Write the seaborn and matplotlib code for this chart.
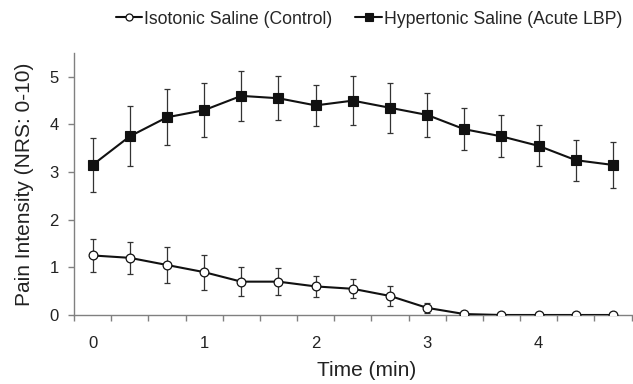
import matplotlib
matplotlib.use("Agg")
import matplotlib.pyplot as plt
import seaborn as sns
import pandas as pd
from matplotlib.ticker import FixedLocator

# ---- data ----
time_min = [0, 1/3, 2/3, 1, 4/3, 5/3, 2, 7/3, 8/3, 3, 10/3, 11/3, 4, 13/3, 14/3]
iso_mean = [1.25, 1.20, 1.05, 0.90, 0.70, 0.70, 0.60, 0.55, 0.40, 0.15, 0.02, 0.0, 0.0, 0.0, 0.0]
iso_sd = [0.34, 0.34, 0.37, 0.37, 0.31, 0.28, 0.22, 0.20, 0.21, 0.10, 0.0, 0.0, 0.0, 0.0, 0.0]
hyper_mean = [3.15, 3.75, 4.15, 4.30, 4.60, 4.55, 4.40, 4.50, 4.35, 4.20, 3.90, 3.75, 3.55, 3.25, 3.15]
hyper_sd = [0.57, 0.63, 0.59, 0.56, 0.53, 0.46, 0.43, 0.51, 0.52, 0.46, 0.44, 0.44, 0.43, 0.43, 0.48]
labels = ["Isotonic Saline (Control)", "Hypertonic Saline (Acute LBP)"]
x_ticks = [0, 1, 2, 3, 4]
y_ticks = [0, 1, 2, 3, 4, 5]
x_title = "Time (min)"
y_title = "Pain Intensity (NRS: 0-10)"

iso_df = pd.DataFrame({"time": time_min, "mean": iso_mean, "sd": iso_sd})
hyp_df = pd.DataFrame({"time": time_min, "mean": hyper_mean, "sd": hyper_sd})

sns.set_style("ticks")
plt.rcParams["font.family"] = ["Liberation Sans", "DejaVu Sans"]

fig = plt.figure(figsize=(6.33, 3.84), dpi=100)
ax = fig.add_axes([74 / 633, 69 / 384, 557.6 / 633, 262 / 384])

err_kw = dict(fmt="none", ecolor="#333333", elinewidth=0.9, capsize=2.2, capthick=0.9, zorder=2)
ax.errorbar(hyp_df["time"], hyp_df["mean"], yerr=hyp_df["sd"], **err_kw)
ax.errorbar(iso_df["time"], iso_df["mean"], yerr=iso_df["sd"], **err_kw)

sns.lineplot(data=iso_df, x="time", y="mean", ax=ax, color="#111111", linewidth=1.5,
             marker="o", markersize=6.3, markerfacecolor="white", markeredgecolor="#111111",
             markeredgewidth=0.9, label=labels[0], zorder=3)
sns.lineplot(data=hyp_df, x="time", y="mean", ax=ax, color="#111111", linewidth=1.5,
             marker="s", markersize=6.6, markerfacecolor="#111111", markeredgecolor="#111111",
             markeredgewidth=0.8, label=labels[1], zorder=3)

ax.set_xlim(-1 / 6, 4 + 5 / 6)
ax.set_ylim(0, 5.5)
ax.set_yticks(y_ticks)
ax.set_xticks(x_ticks)
ax.xaxis.set_minor_locator(FixedLocator([-1 / 6 + k / 3 for k in range(16)]))
ax.tick_params(axis="x", which="major", length=0, pad=15, labelsize=12, colors="#222222")
ax.tick_params(axis="x", which="minor", length=4.5, width=1, color="#808080", direction="out")
ax.tick_params(axis="y", which="major", length=4, width=1, color="#808080", pad=7,
               labelsize=12, labelcolor="#222222")

for s in ["top", "right"]:
    ax.spines[s].set_visible(False)
for s in ["left", "bottom"]:
    ax.spines[s].set_color("#808080")
    ax.spines[s].set_linewidth(1.0)

ax.set_xlabel(x_title, fontsize=15, color="#222222")
ax.set_ylabel(y_title, fontsize=15, color="#222222")
ax.xaxis.set_label_coords(0.525, -0.175)
ax.yaxis.set_label_coords(-0.072, 0.5)

ax.get_legend().remove()
handles, lbls = ax.get_legend_handles_labels()
fig.legend(handles, lbls, loc="center", bbox_to_anchor=(369 / 633, 1 - 19 / 384), ncol=2,
           frameon=False, fontsize=12.7, handlelength=1.5, handletextpad=0.1,
           columnspacing=1.3, borderpad=0, borderaxespad=0, markerscale=0.8)

fig.savefig("out.png", dpi=100)
